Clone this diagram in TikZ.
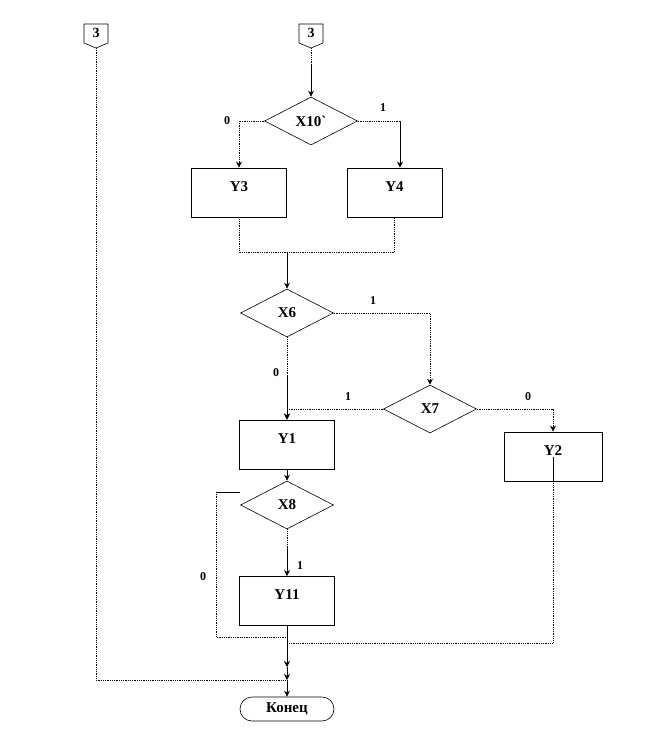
\documentclass[tikz,border=0pt]{standalone}
\usepackage{fontspec}
\setmainfont{Liberation Serif}
\usetikzlibrary{shapes.geometric,arrows.meta}

\tikzset{
  block/.style={draw, line width=0.8pt, minimum width=95pt, inner ysep=0pt,
    text height=23pt, text depth=26pt, font=\fontsize{15}{18}\selectfont\bfseries},
  test/.style={draw, diamond, aspect=2, inner sep=0pt, minimum width=93pt,
    minimum height=48pt, line width=0.6pt, font=\fontsize{15}{18}\selectfont\bfseries},
  term/.style={draw, rounded corners=12pt, minimum width=94pt, minimum height=24pt,
    line width=0.6pt, font=\fontsize{15}{18}\selectfont\bfseries},
  lbl/.style={font=\fontsize{12}{14}\selectfont\bfseries},
  flow/.style={line width=0.8pt, -{Stealth[length=6pt,width=6pt]}},
  dotline/.style={line width=0.8pt, densely dotted},
  dotflow/.style={line width=0.8pt, densely dotted, -{Stealth[length=6pt,width=6pt,sep=0pt]}}
}

\begin{document}
\begin{tikzpicture}[x=1pt, y=-1pt]
    \useasboundingbox (0,0) rectangle (648,756);

    % off-page connectors
    \draw[line width=0.6pt] (84,24) -- (108,24) -- (108,43) -- (96,48) -- (84,43) -- cycle;
    \draw[line width=0.6pt] (299,24) -- (323,24) -- (323,43) -- (311,48) -- (299,43) -- cycle;
    \node[font=\fontsize{14}{16}\selectfont\bfseries] (c1) at (96,33) {3};
    \node[font=\fontsize{14}{16}\selectfont\bfseries] (c2) at (311,33) {3};
    \coordinate (c1tip) at (96,48);
    \coordinate (c2tip) at (311,48);

    % blocks
    \node[test] (x10) at (311,121) {X10{\addfontfeature{Ligatures=TeXOff}\symbol{96}}};
    \node[block] (y3) at (239,192.5) {Y3};
    \node[block] (y4) at (394.5,192.5) {Y4};
    \node[test] (x6) at (287,313) {X6};
    \node[test] (x7) at (430,409) {X7};
    \node[block] (y1) at (287,444.5) {Y1};
    \node[block, minimum width=98pt] (y2) at (553,456.5) {Y2};
    \node[test] (x8) at (287,505) {X8};
    \node[block] (y11) at (287,601) {Y11};
    \node[term] (end) at (287,709) {Конец};

    % helper points
    \coordinate (c2mid) at (311,64);
    \coordinate (x10r) at (400,121);
    \coordinate (m0) at (287,252);
    \coordinate (s1) at (287,376);
    \coordinate (s2) at (287,548);
    \coordinate (x8stub) at (240,492);
    \coordinate (m1) at (287,637);
    \coordinate (m2) at (287,643);
    \coordinate (a1) at (287,667);
    \coordinate (a2) at (287,680);

    % connectors
    \draw[dotline] (c2tip) -- (c2mid);
    \draw[flow] (c2mid) -- (x10.north);
    \draw[dotflow] (x10.west) -| (y3.north);
    \draw[dotline] (x10.east) -- (x10r);
    \draw[flow] (x10r) -- (x10r |- y4.north);
    \draw[dotline] (y3.south) |- (m0) -| (y4.south);
    \draw[flow] (m0) -- (x6.north);
    \draw[dotflow] (x6.east) -| (x7.north);
    \draw[dotline] (x6.south) -- (s1);
    \draw[flow] (s1) -- (y1.north);
    \draw[dotflow] (x7.west) -| (y1.north);
    \draw[dotflow] (x7.east) -| (y2.north);
    \draw[flow] (y1.south) -- (x8.north);
    \draw[dotline] (x8.south) -- (s2);
    \draw[flow] (s2) -- (y11.north);
    \draw[line width=0.8pt] (x8stub) -- (216,492);
    \draw[dotline] (216,492) |- (m1);
    \draw[line width=0.8pt] (y2.center) -- (y2.south);
    \draw[dotline] (y2.south) |- (m2);
    \draw[dotline] (c1tip) |- (a2);
    \draw[flow] (y11.south) -- (a1);
    \draw[flow] (a1) -- (a2);
    \draw[flow] (a2) -- (end.north);

    % branch labels
    \node[lbl] (l1) at (227,121) {0};
    \node[lbl] (l2) at (383,108) {1};
    \node[lbl] (l3) at (373,301) {1};
    \node[lbl] (l4) at (276,373) {0};
    \node[lbl] (l5) at (348,397) {1};
    \node[lbl] (l6) at (528,397) {0};
    \node[lbl] (l7) at (300,566) {1};
    \node[lbl] (l8) at (203,577) {0};
\end{tikzpicture}
\end{document}
